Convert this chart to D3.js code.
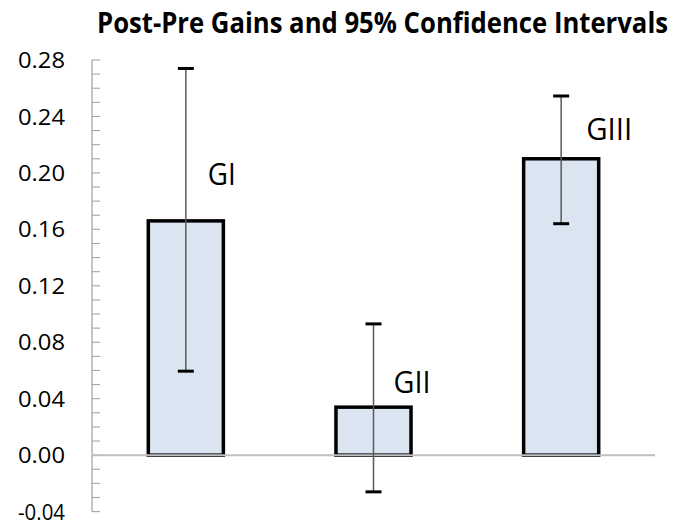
<!DOCTYPE html>
<html><head><meta charset="utf-8">
<script src="https://cdn.jsdelivr.net/npm/d3@7"></script>
<style>body{margin:0;background:#fff}</style>
</head><body>
<svg id="chart" width="673" height="522"></svg>
<script>
const categories = ["GI", "GII", "GIII"];
const gains = [0.166, 0.034, 0.210];
const ciLow = [0.0595, -0.026, 0.164];
const ciHigh = [0.274, 0.093, 0.2545];
const yTicks = [-0.04, 0, 0.04, 0.08, 0.12, 0.16, 0.20, 0.24, 0.28];
const title = "Post-Pre Gains and 95% Confidence Intervals";

const svg = d3.select("#chart");
const x0 = 92, x1 = 655;
const x = d3.scaleBand().domain(categories).range([x0, x1]).paddingInner(0.6).paddingOuter(0.3);
const y = d3.scaleLinear().domain([-0.04, 0.28]).range([511.6, 60]);
const font = "'Open Sans', sans-serif";

// title
svg.append("text").attr("x", 97).attr("y", 33)
  .attr("font-family", font).attr("font-weight", "bold").attr("font-size", 28.5)
  .attr("textLength", 571).attr("lengthAdjust", "spacingAndGlyphs")
  .text(title);

// axis line
const axisCol = "#a6a6a6";
svg.append("line").attr("x1", x0).attr("x2", x0).attr("y1", y(0.28)).attr("y2", y(-0.04))
  .attr("stroke", axisCol).attr("stroke-width", 1.3);
// minor ticks
const minor = d3.range(-0.04, 0.2801, 0.01);
svg.append("g").selectAll("line").data(minor).join("line")
  .attr("x1", x0).attr("x2", x0 + 8)
  .attr("y1", d => y(d)).attr("y2", d => y(d))
  .attr("stroke", axisCol).attr("stroke-width", 1.1);
// tick labels
svg.append("g").selectAll("text").data(yTicks).join("text")
  .attr("x", 65).attr("y", d => y(d)).attr("dy", "0.36em")
  .attr("text-anchor", "end").attr("font-family", font).attr("font-size", 22.5)
  .attr("fill", "#000")
  .attr("textLength", 47).attr("lengthAdjust", "spacingAndGlyphs")
  .text(d => d.toFixed(2));

// bars
const data = categories.map((c, i) => ({c, v: gains[i], lo: ciLow[i], hi: ciHigh[i]}));
svg.append("g").selectAll("rect").data(data).join("rect")
  .attr("x", d => x(d.c)).attr("width", x.bandwidth())
  .attr("y", d => y(Math.max(0, d.v))).attr("height", d => Math.abs(y(d.v) - y(0)))
  .attr("fill", "#dbe5f1").attr("stroke", "#000").attr("stroke-width", 3.5);

// zero line
svg.append("line").attr("x1", x0).attr("x2", x1).attr("y1", y(0)).attr("y2", y(0))
  .attr("stroke", "#bfbfbf").attr("stroke-width", 2);

// error bars
const eg = svg.append("g").selectAll("g").data(data).join("g");
eg.append("line")
  .attr("x1", d => x(d.c) + x.bandwidth()/2).attr("x2", d => x(d.c) + x.bandwidth()/2)
  .attr("y1", d => y(d.hi)).attr("y2", d => y(d.lo))
  .attr("stroke", "#595959").attr("stroke-width", 1.5);
["hi", "lo"].forEach(k => {
  eg.append("line")
    .attr("x1", d => x(d.c) + x.bandwidth()/2 - 8).attr("x2", d => x(d.c) + x.bandwidth()/2 + 8)
    .attr("y1", d => y(d[k])).attr("y2", d => y(d[k]))
    .attr("stroke", "#000").attr("stroke-width", 3);
});

// category labels
const labelOffsets = [[22, 0.199], [20, 0.052], [25, 0.231]];
svg.append("g").selectAll("text").data(data).join("text")
  .attr("x", (d, i) => x(d.c) + x.bandwidth()/2 + labelOffsets[i][0])
  .attr("y", (d, i) => y(labelOffsets[i][1]))
  .attr("dy", "0.36em")
  .attr("font-family", font).attr("font-size", 30.5)
  .attr("textLength", (d, i) => [28, 37, 46][i]).attr("lengthAdjust", "spacingAndGlyphs")
  .text(d => d.c);
</script>
</body></html>
